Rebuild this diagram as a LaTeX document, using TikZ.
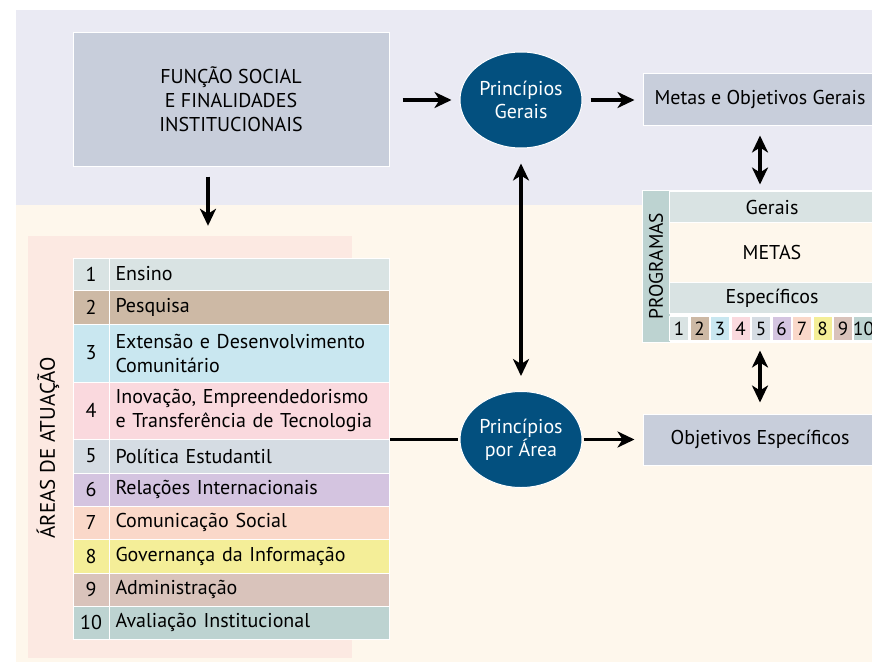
\documentclass[tikz,border=0pt]{standalone}
\usepackage{fontspec}
\setmainfont{PT Sans}
\usetikzlibrary{arrows.meta,shapes.geometric}

\definecolor{bgtop}{HTML}{EAEAF3}
\definecolor{bgbot}{HTML}{FEF7EC}
\definecolor{panel}{HTML}{FCE9E2}
\definecolor{boxgray}{HTML}{C8CEDB}
\definecolor{pblue}{HTML}{03507F}
\definecolor{c1}{HTML}{D9E3E3}
\definecolor{c2}{HTML}{CDB9A5}
\definecolor{c3}{HTML}{C9E7F0}
\definecolor{c4}{HTML}{FAD9DE}
\definecolor{c5}{HTML}{D5DCE3}
\definecolor{c6}{HTML}{D4C4E0}
\definecolor{c7}{HTML}{FAD8C9}
\definecolor{c8}{HTML}{F4EE98}
\definecolor{c9}{HTML}{D9C3BB}
\definecolor{c10}{HTML}{BDD3D1}

\newcommand{\fsz}[2]{\fontsize{#1}{#2}\selectfont}

\tikzset{
	box/.style={draw=white, line width=1pt, fill=boxgray, inner sep=0pt},
	cell/.style={draw=white, line width=1pt, inner sep=0pt},
	oval/.style={ellipse, draw=white, line width=1pt, fill=pblue, text=white, inner sep=0pt,
		minimum width=122pt, minimum height=96pt, align=center, font=\fsz{20}{23}},
	arr/.style={line width=3.5pt, -{Stealth[length=17pt,width=16pt,inset=5pt]}},
	dbl/.style={line width=3.5pt, {Stealth[length=17pt,width=16pt,inset=5pt]}-{Stealth[length=17pt,width=16pt,inset=5pt]}},
}

\begin{document}
\begin{tikzpicture}[x=1pt, y=-1pt]
	\useasboundingbox (0,0) rectangle (872,666);
	\fill[white] (0,0) rectangle (872,666);
	\fill[bgtop] (16,10) rectangle (872,205);
	\fill[bgbot] (16,205) rectangle (872,662);

	\node[box, minimum width=316pt, minimum height=133pt, align=center, font=\fsz{20}{24}] (F) at (231,99.5) {FUNÇÃO SOCIAL\\E FINALIDADES\\INSTITUCIONAIS};
	\node[oval] (PG) at (521,100) {Princípios\\Gerais};
	\node[oval] (PA) at (521,439.5) {Princípios\\por Área};
	\node[box, minimum width=234pt, minimum height=52pt, font=\fsz{20}{23}] (MOG) at (760,100) {Metas e Objetivos Gerais};
	\node[box, minimum width=234pt, minimum height=51pt, font=\fsz{20}{23}] (OE) at (760,439.5) {Objetivos Específicos};

	% areas de atuacao
	\node[fill=panel, inner sep=0pt, minimum width=324pt, minimum height=422pt] (areas) at (190,447) {};
	\node[rotate=90, font=\fsz{21}{24}] (areaslbl) at (48,448) {ÁREAS DE ATUAÇÃO};
	\foreach \i/\ya/\yb/\txt in {1/258/290/Ensino, 2/290/324/Pesquisa,
		3/324/382/{Extensão e Desenvolvimento\\Comunitário},
		4/382/439/{Inovação, Empreendedorismo\\e Transferência de Tecnologia},
		5/439/473/Política Estudantil, 6/473/506/Relações Internacionais,
		7/506/539/Comunicação Social, 8/539/573/Governança da Informação,
		9/573/606/Administração, 10/606/639/Avaliação Institucional}
	{
		\node[cell, fill=c\i, minimum width=36pt, minimum height={(\yb-\ya)*1pt}, font=\fsz{20}{24}] (n\i) at (91,{(\ya+\yb)/2}) {\i};
		\node[cell, fill=c\i, anchor=west, text width=268pt, inner xsep=6pt, align=left,
			minimum height={(\yb-\ya)*1pt}, font=\fsz{20}{24}] (t\i) at (109,{(\ya+\yb)/2}) {\txt};
	}

	% programas
	\node[cell, fill=white, minimum width=235pt, minimum height=152pt] (prog) at (759.5,266) {};
	\node[cell, fill=c10, rotate=90, minimum width=152pt, minimum height=28pt, font=\fsz{19.5}{22}] (progs) at (656,266) {PROGRAMAS};
	\node[cell, fill=c1, minimum width=206pt, minimum height=31pt, font=\fsz{20}{22}] (ger) at (772,207) {Gerais};
	\node[cell, fill=bgbot, minimum width=206pt, minimum height=60pt, font=\fsz{20}{22}] (metas) at (772,252.5) {METAS};
	\node[cell, fill=c1, minimum width=206pt, minimum height=31pt, font=\fsz{20}{22}] (esp) at (772,298) {Específicos};
	\foreach \i in {1,...,10}
		\node[cell, fill=c\i, minimum width=19pt, minimum height=24pt, font=\fsz{19}{21}] (q\i) at ({679+(\i-1)*20.5},328.5) {\i};

	% conectores
	\draw[arr, shorten <=13pt, shorten >=8pt] (F.east |- PG) -- (PG);
	\draw[arr, shorten <=8pt, shorten >=8pt] (PG) -- (MOG);
	\draw[arr, shorten <=10pt, shorten >=10pt] ([xshift=-23pt]F.south) -- ([xshift=-23pt]F.south |- areas.north);
	\draw[dbl, shorten <=15pt, shorten >=15pt] (PG) -- (PA);
	\draw[dbl, shorten <=9pt, shorten >=5pt] (MOG.south) -- (MOG.south |- prog.north);
	\draw[dbl, shorten <=8pt, shorten >=11pt] (prog.south -| MOG.south) -- (OE.north);
	\draw[line width=3.5pt, shorten >=2pt] (t4.east |- PA) -- (PA);
	\draw[arr, shorten <=1pt, shorten >=8pt] (PA) -- (OE);
\end{tikzpicture}
\end{document}
